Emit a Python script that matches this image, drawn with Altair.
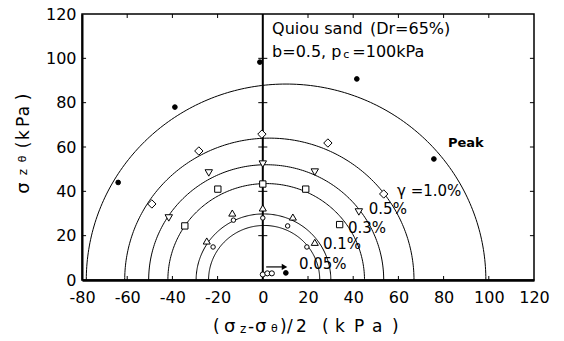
import altair as alt
import numpy as np
import pandas as pd

# ---------------- data ----------------
# Mohr-type circles (centre on the x axis, radius), kPa
circle_label = ["peak", "1.0", "0.5", "0.3", "0.1", "0.05"]
circle_cx = [10.3, 2.9, 1.5, 1.5, 0.3, 0.6]
circle_r = [88.4, 64.0, 52.0, 43.5, 29.8, 24.6]

# measured stress points per shear strain level
g10_x = [-49.1, -28.3, -0.4, 28.8, 53.5]
g10_y = [34.3, 58.2, 65.8, 61.8, 38.8]
g05_x = [-41.6, -23.9, 0.0, 23.0, 42.5]
g05_y = [28.0, 48.3, 52.3, 48.7, 30.7]
g03_x = [-34.5, -19.9, 0.0, 19.0, 34.0]
g03_y = [24.4, 41.0, 43.3, 41.0, 25.0]
g01_x = [-24.8, -13.5, 0.0, 13.3, 23.0]
g01_y = [17.6, 30.2, 32.5, 28.4, 17.0]
g005_x = [-22.0, -13.0, 0.0, 11.0, 19.5]
g005_y = [14.9, 27.0, 28.0, 24.4, 14.9]
peak_x = [-64.0, -38.9, -1.3, 41.6, 75.7, 10.2]
peak_y = [44.0, 78.0, 98.3, 90.7, 54.6, 3.2]
start_x = [0.0, 2.0, 4.0]
start_y = [2.5, 3.0, 3.0]

# axis ticks
x_ticks = [-80, -60, -40, -20, 0, 20, 40, 60, 80, 100, 120]
y_ticks = [0, 20, 40, 60, 80, 100, 120]
inner_x_ticks = [-60, -40, -20, 20, 40, 60, 80, 100]
inner_y_ticks = [20, 40, 60, 80, 100]
zero_line_ticks = [20, 40, 60, 80, 100]

# arrow (loading direction)
arrow_x = [1.5]
arrow_x2 = [9.0]
arrow_y = [5.9]
arrow_head_x = [9.6]

# annotations (data coordinates)
ann_text = ["Quiou sand", "(Dr=65%)", "b=0.5, p", "c", "=100kPa",
            "\u03b3 =1.0%", "0.5%", "0.3%", "0.1%", "0.05%"]
ann_x = [4.1, 47.4, 4.1, 35.6, 39.6, 59.4, 46.9, 37.7, 26.6, 16.0]
ann_y = [113.2, 113.2, 102.9, 101.6, 102.9, 40.2, 32.0, 23.5, 16.3, 7.3]
ann_fs = [16, 16, 16, 11, 16, 15, 15, 15, 15, 15]
peak_text = ["Peak"]
peak_tx = [81.9]
peak_ty = [62.0]

# axis titles built from pieces (for subscripts)
xt_text = ["(", "\u03c3", "z", "-", "\u03c3", "\u03b8", ")", "/", "2", "(", "k", "P", "a", ")"]
xt_x = [-22.0, -17.2, -10.1, -6.5, -3.5, 3.6, 7.6, 10.7, 14.7, 26.2, 31.9, 40.4, 48.3, 57.2]
xt_y = [-21.2, -21.2, -22.3, -21.2, -21.2, -22.0, -21.2, -21.2, -21.2, -21.2, -21.2, -21.2, -21.2, -21.2]
xt_fs = [17, 18, 12, 17, 18, 11, 17, 17, 17, 17, 17, 17, 17, 17]

yt_text = ["\u03c3", "z", "\u03b8", "(", "k", "P", "a", ")"]
yt_x = [-105.7, -106.3, -106.3, -105.7, -105.7, -105.7, -105.7, -105.7]
yt_y = [41.5, 48.7, 54.6, 60.9, 65.4, 71.3, 76.2, 82.6]
yt_fs = [18, 12, 11, 17, 17, 17, 17, 17]

# ---------------- tables ----------------
FONT = "DejaVu Sans"
xs = alt.Scale(domain=[-80, 120], nice=False, zero=False)
ys = alt.Scale(domain=[0, 120], nice=False, zero=False)

xaxis = alt.Axis(values=x_ticks, title=None, grid=False, ticks=False, tickSize=0,
                 labelFont=FONT, labelFontSize=16, labelColor="black", labelPadding=9,
                 domainColor="black", domainWidth=2.5, labelFlush=False,
                 labelOverlap=False, labelExpr="toString(datum.value)")
yaxis = alt.Axis(values=y_ticks, title=None, grid=False, ticks=False, tickSize=0,
                 labelFont=FONT, labelFontSize=16, labelColor="black", labelPadding=6,
                 domainColor="black", domainWidth=2, labelFlush=False,
                 labelOverlap=False, labelExpr="toString(datum.value)")


def X(f):
    return alt.X(f, type="quantitative", scale=xs, axis=xaxis)


def Y(f):
    return alt.Y(f, type="quantitative", scale=ys, axis=yaxis)


# semicircle outlines from the read centres and radii
ang = np.linspace(0.0, np.pi, 181)
circ_rows = []
for lab, cx, r in zip(circle_label, circle_cx, circle_r):
    for i, a in enumerate(ang):
        circ_rows.append({"c": lab, "i": i, "x": cx + r * np.cos(a), "y": r * np.sin(a)})
circ_df = pd.DataFrame(circ_rows)

circles = alt.Chart(circ_df).mark_line(color="black", strokeWidth=1, clip=True).encode(
    x=X("x"), y=Y("y"), detail="c:N", order="i:Q")

zero_line = alt.Chart(pd.DataFrame({"x": [0.0], "y": [0.0], "y2": [120.0]})).mark_rule(
    color="black", strokeWidth=2).encode(x=X("x"), y=Y("y"), y2="y2:Q")

tick_rows = []
for v in inner_x_ticks:
    tick_rows.append({"x": v, "x2": v, "y": 0.0, "y2": 1.8})
    tick_rows.append({"x": v, "x2": v, "y": 120.0, "y2": 118.2})
for v in inner_y_ticks:
    tick_rows.append({"x": -80.0, "x2": -78.2, "y": v, "y2": v})
    tick_rows.append({"x": 120.0, "x2": 118.2, "y": v, "y2": v})
for v in zero_line_ticks:
    tick_rows.append({"x": -2.0, "x2": 2.0, "y": v, "y2": v})
ticks = alt.Chart(pd.DataFrame(tick_rows)).mark_rule(color="black", strokeWidth=1).encode(
    x=X("x"), x2="x2:Q", y=Y("y"), y2="y2:Q")

arrow_line = alt.Chart(pd.DataFrame({"x": arrow_x, "x2": arrow_x2, "y": arrow_y})).mark_rule(
    color="black", strokeWidth=1.2).encode(x=X("x"), x2="x2:Q", y=Y("y"))
arrow_head = alt.Chart(pd.DataFrame({"x": arrow_head_x, "y": arrow_y})).mark_point(
    shape="triangle-right", filled=True, color="black", size=40, opacity=1).encode(
    x=X("x"), y=Y("y"))

series = [
    ("1.0", g10_x, g10_y, "diamond", 70, "white"),
    ("0.5", g05_x, g05_y, "triangle-down", 55, "white"),
    ("0.3", g03_x, g03_y, "square", 40, "white"),
    ("0.1", g01_x, g01_y, "triangle-up", 50, "white"),
    ("0.05", g005_x, g005_y, "circle", 20, "white"),
    ("peak", peak_x, peak_y, "circle", 22, "black"),
    ("start", start_x, start_y, "circle", 26, "white"),
]
point_layers = []
for name, xx, yy, shp, sz, fl in series:
    point_layers.append(
        alt.Chart(pd.DataFrame({"x": xx, "y": yy})).mark_point(
            shape=shp, size=sz, filled=True, fill=fl, stroke="black",
            strokeWidth=1, opacity=1).encode(x=X("x"), y=Y("y")))


def text_layers(texts, xx, yy, fss, **kw):
    out = []
    df = pd.DataFrame({"t": texts, "x": xx, "y": yy, "fs": fss})
    for fs in sorted(set(fss)):
        sub = df[df["fs"] == fs]
        out.append(alt.Chart(sub).mark_text(font=FONT, color="black", fontSize=fs, **kw).encode(
            x=X("x"), y=Y("y"), text="t:N"))
    return out


ann = text_layers(ann_text, ann_x, ann_y, ann_fs, align="left", baseline="middle")
peak_lbl = text_layers(peak_text, peak_tx, peak_ty, [13], align="left", baseline="middle",
                       fontWeight="bold")
xtitle = text_layers(xt_text, xt_x, xt_y, xt_fs, align="left", baseline="middle")
ytitle = text_layers(yt_text, yt_x, yt_y, yt_fs, align="center", baseline="middle", angle=270)

chart = alt.layer(circles, zero_line, ticks, arrow_line, arrow_head, *point_layers,
                  *ann, *peak_lbl, *xtitle, *ytitle).properties(
    width=452, height=266,
    autosize=alt.AutoSizeParams(type="none"),
    padding={"left": 82, "top": 14, "right": 30, "bottom": 61},
    background="white",
).configure_view(stroke="black", strokeWidth=1.5)

chart.save("out.html", embed_options={"renderer": "svg", "actions": False})
